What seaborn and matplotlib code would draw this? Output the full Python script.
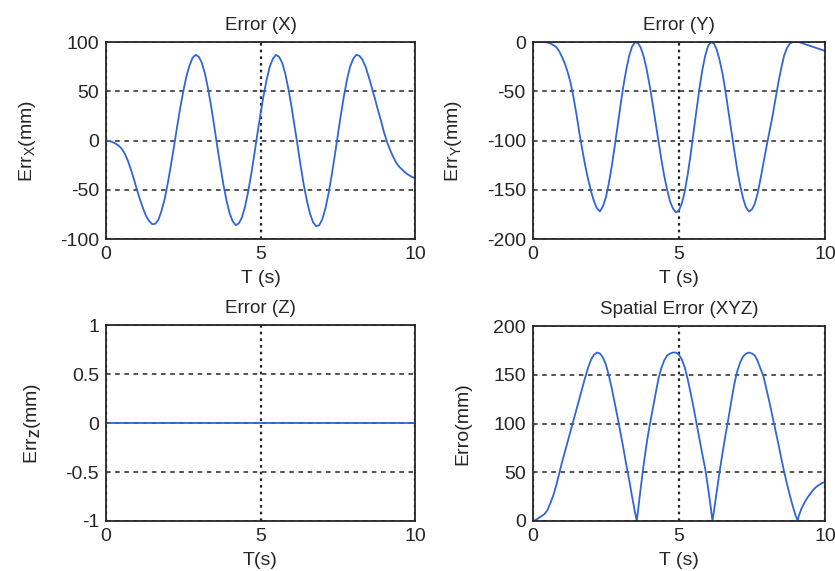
import numpy as np
import matplotlib
matplotlib.use("Agg")
import matplotlib.pyplot as plt
from matplotlib.ticker import FuncFormatter
import seaborn as sns

# sample times (s) for the X / Y / Z error traces
time_s = np.linspace(0, 10, 101)

err_x = [0, -0.5, -1.5, -3, -5, -8, -13, -20, -29, -39,
         -50, -60, -69, -77, -82, -85, -84.4, -80, -71, -59,
         -43, -25, -6, 14, 33, 50, 65, 76, 84, 87,
         85, 79, 68, 53, 35, 15, -6, -26, -45, -61,
         -74, -82, -86, -84, -78, -67, -52, -34, -14, 7,
         27, 46, 62, 75, 83, 87, 85, 79, 68, 53,
         35, 15, -5, -26, -45, -61, -74, -83, -87, -86,
         -80, -69, -54, -36, -16, 5, 26, 45, 62, 75,
         83, 87, 86, 82, 75, 65, 54, 43, 31, 20,
         8, -2, -10, -17, -23, -27, -30, -33, -35, -37,
         -38]

err_y = [0, 0, 0, 0, 0, -0.5, -1.5, -3, -5, -9,
         -15, -22, -31, -42, -57, -74, -93, -110, -126, -140,
         -152, -162, -169, -172, -167, -158, -144, -127, -107, -86,
         -65, -45, -28, -14, -4.5, -0.2, -1, -6, -15, -28,
         -44, -62, -81, -100, -119, -136, -150, -162, -169, -173,
         -171, -164, -152, -135, -115, -92, -70, -48, -29, -14,
         -4, 0, -1.6, -8, -19, -33, -51, -71, -91, -111,
         -130, -146, -159, -168, -172, -170, -164, -153, -138, -122,
         -106, -91, -76, -59, -42, -27, -14, -6, -1.5, 0,
         0, 0, -1, -2, -3, -4, -5, -6, -7, -8,
         -9]

err_z = np.zeros(len(time_s))

spatial_time = [0.0, 0.1, 0.2, 0.3, 0.4, 0.5, 0.6, 0.7, 0.8, 0.9,
                1.0, 1.1, 1.2, 1.3, 1.4, 1.5, 1.6, 1.7, 1.8, 1.9,
                2.0, 2.1, 2.2, 2.3, 2.4, 2.5, 2.6, 2.7, 2.8, 2.9,
                3.0, 3.1, 3.2, 3.3, 3.4, 3.5, 3.56, 3.6, 3.7, 3.8, 3.9,
                4.0, 4.1, 4.2, 4.3, 4.4, 4.5, 4.6, 4.7, 4.8, 4.9,
                5.0, 5.1, 5.2, 5.3, 5.4, 5.5, 5.6, 5.7, 5.8, 5.9,
                6.0, 6.1, 6.15, 6.2, 6.3, 6.4, 6.5, 6.6, 6.7, 6.8, 6.9,
                7.0, 7.1, 7.2, 7.3, 7.4, 7.5, 7.6, 7.7, 7.8, 7.9,
                8.0, 8.1, 8.2, 8.3, 8.4, 8.5, 8.6, 8.7, 8.8, 8.9,
                9.0, 9.07, 9.1, 9.2, 9.3, 9.4, 9.5, 9.6, 9.7, 9.8, 9.9, 10.0]
spatial_err = [0, 1, 3, 5, 7, 11, 18, 26, 36, 48,
               60, 71, 82, 93, 104, 115, 126, 137, 148, 158,
               166, 171, 173, 172, 168, 161, 150, 137, 122, 107,
               91, 75, 58, 42, 25, 9, 0, 10, 35, 59, 80,
               98, 114, 130, 146, 157, 165, 170, 172, 173, 173,
               171, 166, 158, 146, 132, 117, 101, 85, 69, 54,
               34, 12, 0, 10, 31, 52, 71, 89, 106, 124, 141,
               154, 163, 169, 172, 173, 172, 170, 164, 156, 148,
               135, 122, 108, 94, 80, 65, 51, 38, 26, 15,
               5, 0, 5, 13, 19, 24, 28, 32, 35, 37, 39, 40]

sns.set_theme(style="white")
plt.rcParams["font.family"] = ["Liberation Sans", "DejaVu Sans"]
plt.rcParams["mathtext.fontset"] = "custom"
plt.rcParams["mathtext.rm"] = "Liberation Sans"
plt.rcParams["mathtext.it"] = "Liberation Sans"
plt.rcParams["mathtext.bf"] = "Liberation Sans:bold"
plt.rcParams["axes.unicode_minus"] = False

LINE = "#3066d8"
INK = "#262626"


def draw_panel(ax, x, y, title, xlabel, ylabel, ylim, yticks):
    sns.lineplot(x=x, y=y, ax=ax, color=LINE, linewidth=1.3, sort=False)
    ax.set_xlim(0, 10)
    ax.set_ylim(*ylim)
    ax.set_xticks([0, 5, 10])
    ax.set_yticks(yticks)
    ax.yaxis.set_major_formatter(FuncFormatter(lambda v, p: f"{v:g}"))
    ax.yaxis.grid(True, color=INK, linestyle=(0, (3, 3)), linewidth=1.1)
    ax.xaxis.grid(True, color=INK, linestyle=(0, (1.2, 1.8)), linewidth=1.6)
    ax.set_axisbelow(True)
    for s in ax.spines.values():
        s.set_color(INK)
        s.set_linewidth(1.3)
    ax.tick_params(direction="in", length=4, width=1, colors=INK,
                   labelsize=14, pad=5)
    ax.set_title(title, fontsize=13.5, color=INK, pad=9)
    ax.set_xlabel(xlabel, fontsize=14, color=INK, labelpad=5)
    ax.set_ylabel(ylabel, fontsize=14, color=INK, labelpad=16)


fig = plt.figure(figsize=(8.35, 5.71), dpi=100)
ax_x = fig.add_axes([0.127, 0.5814, 0.370, 0.345])
ax_y = fig.add_axes([0.638, 0.5814, 0.350, 0.345])
ax_z = fig.add_axes([0.127, 0.0876, 0.370, 0.343])
ax_s = fig.add_axes([0.638, 0.0876, 0.350, 0.341])

draw_panel(ax_x, time_s, err_x, "Error (X)", "T (s)", "Err$_X$(mm)",
           (-100, 100), [-100, -50, 0, 50, 100])
draw_panel(ax_y, time_s, err_y, "Error (Y)", "T (s)", "Err$_Y$(mm)",
           (-200, 0), [-200, -150, -100, -50, 0])
draw_panel(ax_z, time_s, err_z, "Error (Z)", "T(s)", "Err$_\\mathbf{Z}$(mm)",
           (-1, 1), [-1, -0.5, 0, 0.5, 1])
draw_panel(ax_s, spatial_time, spatial_err, "Spatial Error (XYZ)", "T (s)", "Erro(mm)",
           (0, 200), [0, 50, 100, 150, 200])

fig.savefig("out.png", dpi=100)
plt.close(fig)
